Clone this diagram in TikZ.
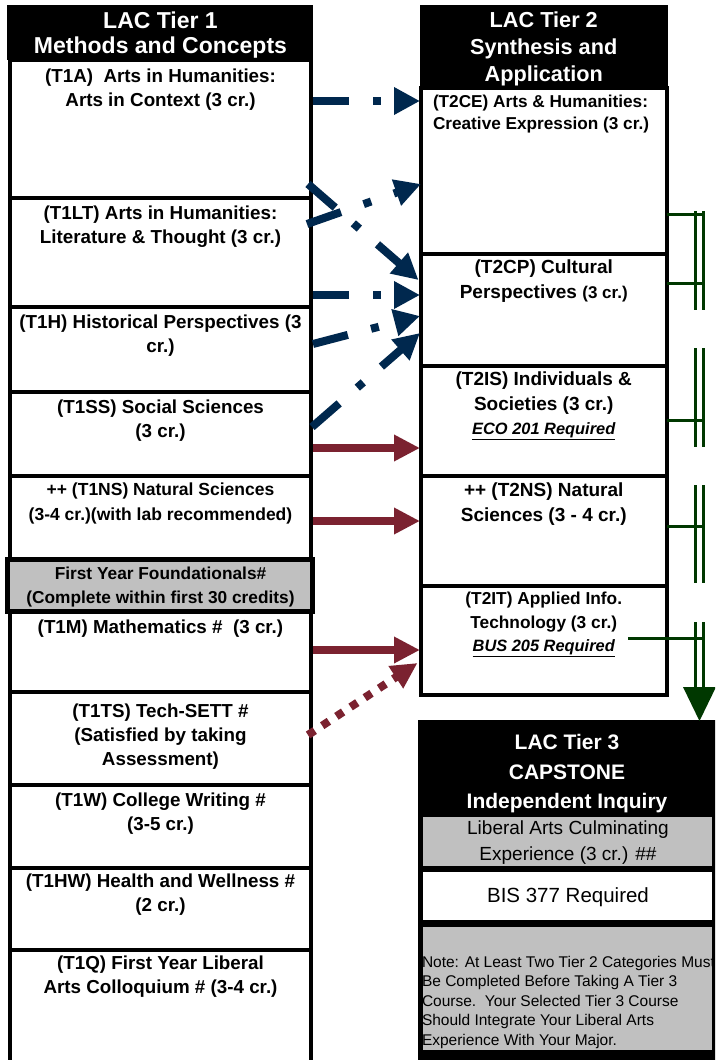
\documentclass[tikz,border=0pt]{standalone}
\usepackage{fontspec}
\setmainfont{Liberation Sans}
\usetikzlibrary{arrows.meta}
\definecolor{navyc}{RGB}{0,40,78}
\definecolor{maroonc}{RGB}{123,34,48}
\definecolor{greenc}{RGB}{0,56,0}
\definecolor{silverc}{RGB}{192,192,192}
\newcommand{\fsz}[2]{\fontsize{#1}{#2}\selectfont}
\newcommand{\mkbox}[6]{\node[#6, minimum width={#4-#2}, minimum height={#5-#3}] (#1) at ({(#2+#4)/2},{(#3+#5)/2}) {};}
\begin{document}
\begin{tikzpicture}[x=1pt,y=-1pt,
  box/.style={draw=black, line width=4pt, fill=white, inner sep=0pt, outer sep=0pt},
  hdr/.style={fill=black, inner sep=0pt, outer sep=0pt},
  grayb/.style={draw=black, line width=5pt, fill=silverc, inner sep=0pt, outer sep=0pt},
  plainb/.style={inner sep=0pt, outer sep=0pt},
  lab/.style={inner sep=0pt, outer sep=0pt, align=center},
  navyarrow/.style={draw=navyc, line width=8pt, dash pattern=on 36pt off 24pt on 8pt off 24pt, -{Triangle[length=26pt,width=26pt]}},
  redarrow/.style={draw=maroonc, line width=8pt, -{Triangle[length=26pt,width=25pt]}},
  reddots/.style={draw=maroonc, line width=8pt, dash pattern=on 8pt off 9pt, -{Triangle[length=26pt,width=25pt]}},
  gline/.style={draw=greenc, line width=3pt}]
\useasboundingbox (0,0) rectangle (715,1060);
\clip (0,0) rectangle (715,1060);
\fill[white] (0,0) rectangle (715,1060);

% ---------- Tier 1 column ----------
\mkbox{T1A}{10}{60}{311}{198}{box}
\mkbox{T1LT}{10}{198}{311}{307}{box}
\mkbox{T1H}{10}{307}{311}{392}{box}
\mkbox{T1SS}{10}{392}{311}{476}{box}
\mkbox{T1NS}{10}{476}{311}{559}{box}
\mkbox{T1M}{10}{611}{311}{692}{box}
\mkbox{T1TS}{10}{692}{311}{785}{box}
\mkbox{T1W}{10}{785}{311}{868}{box}
\mkbox{T1HW}{10}{868}{311}{950}{box}
\mkbox{T1Q}{10}{950}{311}{1075}{box}
\mkbox{FYF}{7.5}{559}{312.5}{611}{grayb}
\mkbox{H1}{7}{5}{313}{60}{hdr}

% ---------- Tier 2 column ----------
\mkbox{T2CE}{420.5}{88}{667}{253.5}{box}
\mkbox{T2CP}{420.5}{253.5}{667}{366}{box}
\mkbox{T2IS}{420.5}{366}{667}{476}{box}
\mkbox{T2NS}{420.5}{476}{667}{586}{box}
\mkbox{T2IT}{420.5}{586}{667}{695}{box}
\mkbox{H2}{420}{5}{668}{88}{hdr}

% ---------- Tier 3 ----------
\mkbox{T3}{418}{720}{725}{1075}{hdr}
\mkbox{T3a}{423}{817}{712}{866}{plainb, fill=silverc}
\mkbox{T3b}{423}{872}{712}{920}{plainb, fill=white}
\mkbox{T3c}{423}{927}{712}{1050}{plainb, fill=silverc}

% ---------- texts ----------
\node[lab, text=white, font=\bfseries\fsz{23}{25}] (h1t) at (160.5,35) {LAC Tier 1\\Methods and Concepts};
\node[lab, font=\bfseries\fsz{18.8}{24}] (t1a) at (160.5,90) {(T1A)\ \ Arts in Humanities:\\Arts in Context (3 cr.)};
\node[lab, font=\bfseries\fsz{18.8}{24}] (t1lt) at (160.5,227) {(T1LT) Arts in Humanities:\\Literature \& Thought (3 cr.)};
\node[lab, font=\bfseries\fsz{18.8}{24}] (t1h) at (160.5,336) {(T1H) Historical Perspectives (3\\cr.)};
\node[lab, font=\bfseries\fsz{18.8}{24}] (t1ss) at (160.5,421) {(T1SS) Social Sciences\\(3 cr.)};
\node[lab, font=\bfseries\fsz{17.5}{25}] (t1ns) at (160.5,503) {++ (T1NS) Natural Sciences\\(3-4 cr.)(with lab recommended)};
\node[lab, font=\bfseries\fsz{17.3}{24}] (fyft) at (160.5,587) {First Year Foundationals\#\\(Complete within first 30 credits)};
\node[lab, font=\bfseries\fsz{18.8}{24}] (t1m) at (160.5,629) {(T1M) Mathematics \#\ \ (3 cr.)};
\node[lab, font=\bfseries\fsz{18.8}{24}] (t1ts) at (160.5,737) {(T1TS) Tech-SETT \#\\(Satisfied by taking\\Assessment)};
\node[lab, font=\bfseries\fsz{18.8}{24}] (t1w) at (160.5,814) {(T1W) College Writing \#\\(3-5 cr.)};
\node[lab, font=\bfseries\fsz{18.8}{24}] (t1hw) at (160.5,895) {(T1HW) Health and Wellness \#\\(2 cr.)};
\node[lab, font=\bfseries\fsz{18.8}{24}] (t1q) at (160.5,977) {(T1Q) First Year Liberal\\Arts Colloquium \# (3-4 cr.)};

\node[lab, text=white, font=\bfseries\fsz{21.7}{27}] (h2t) at (543.75,49) {LAC Tier 2\\Synthesis and\\Application};
\node[lab, align=left, anchor=west, font=\bfseries\fsz{17.2}{22}] (t2ce) at (433,114) {(T2CE) Arts \& Humanities:\\Creative Expression (3 cr.)};
\node[lab, font=\bfseries\fsz{19}{25}] (t2cp) at (543.75,281.5) {(T2CP) Cultural\\Perspectives {\fsz{17}{25}(3 cr.)}};
\node[lab, font=\bfseries\fsz{19}{24.5}] (t2is) at (543.75,406) {(T2IS) Individuals \&\\Societies (3 cr.)\\{\fsz{16.4}{24.5}\itshape\underline{ECO 201 Required}}};
\node[lab, font=\bfseries\fsz{19}{25}] (t2ns) at (543.75,504.5) {++ (T2NS) Natural\\Sciences (3 - 4 cr.)};
\node[lab, font=\bfseries\fsz{17.3}{23.5}] (t2it) at (543.75,624.5) {(T2IT) Applied Info.\\Technology (3 cr.)\\{\fsz{16.4}{23.5}\itshape\underline{BUS 205 Required}}};

\node[lab, text=white, font=\bfseries\fsz{21}{29.5}] (t3h) at (567,774) {LAC Tier 3\\CAPSTONE\\Independent Inquiry};
\node[lab, font=\fsz{19}{26}] (t3at) at (568,843) {Liberal Arts Culminating\\Experience (3 cr.) \#\#};
\node[lab, font=\fsz{20.5}{24}] (t3bt) at (568,897) {BIS 377 Required};
\node[lab, align=left, anchor=west, font=\fsz{15.5}{19.5}] (t3ct) at (422,1002) {Note: At Least Two Tier 2 Categories Must\\Be Completed Before Taking A Tier 3\\Course.\ \ Your Selected Tier 3 Course\\Should Integrate Your Liberal Arts\\Experience With Your Major.};

% ---------- navy dash-dot arrows ----------
\draw[navyarrow] ([xshift=2pt,yshift=28pt]T1A.east) -- ([xshift=-0.5pt,yshift=69.75pt]T2CE.west);
\draw[navyarrow] ([xshift=-3pt,yshift=14pt]T1A.south east) -- ([xshift=-2pt,yshift=29.75pt]T2CP.west);
\draw[navyarrow] ([xshift=-4pt,yshift=28.5pt]T1LT.east) -- ([xshift=0.5pt,yshift=69.5pt]T2CE.south west);
\draw[navyarrow] ([xshift=2pt,yshift=-42.5pt]T1LT.east) -- ([xshift=-0.5pt,yshift=14.75pt]T2CP.west);
\draw[navyarrow] ([xshift=2pt,yshift=5.5pt]T1H.east) -- ([xshift=-0.5pt,yshift=-6.25pt]T2CP.west);
\draw[navyarrow] ([xshift=1pt,yshift=7pt]T1SS.east) -- ([xshift=-0.5pt,yshift=-23.25pt]T2CP.west);

% ---------- maroon arrows ----------
\draw[redarrow] ([xshift=2pt,yshift=-14pt]T1SS.east) -- ([xshift=-0.5pt,yshift=-27pt]T2IS.west);
\draw[redarrow] ([xshift=2pt,yshift=-3.5pt]T1NS.east) -- ([xshift=-0.5pt,yshift=10pt]T2NS.west);
\draw[redarrow] ([xshift=2pt,yshift=1.5pt]T1M.east) -- ([xshift=-0.5pt,yshift=-9.5pt]T2IT.west);
\draw[reddots] ([xshift=-3pt,yshift=3.5pt]T1TS.east) -- ([xshift=-3pt,yshift=32pt]T2IT.south west);

% ---------- green connectors ----------
\foreach \a/\b in {211/310, 348/447, 485/583, 622/688} {
  \draw[gline] (695.5,\a) -- (695.5,\b);
  \draw[gline] (703.5,\a) -- (703.5,\b);
}
\coordinate (gA) at (705,214);
\coordinate (gB) at (705,283);
\coordinate (gC) at (705,420);
\coordinate (gD) at (705,526);
\coordinate (gE) at (705,638);
\coordinate (gE0) at (628,638);
\draw[gline] (T2CE.east |- gA) -- (gA);
\draw[gline] (T2CP.east |- gB) -- (gB);
\draw[gline] (T2IS.east |- gC) -- (gC);
\draw[gline] (T2NS.east |- gD) -- (gD);
\draw[gline] (gE0) -- (gE);
\fill[greenc] (683,687) -- (716,687) -- (699.5,721) -- cycle;
\end{tikzpicture}
\end{document}
